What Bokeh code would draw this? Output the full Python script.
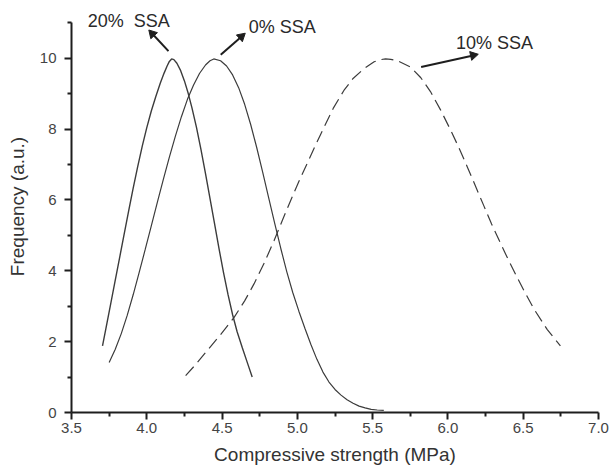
import math

from bokeh.plotting import figure
from bokeh.models import Range1d, FixedTicker, PrintfTickFormatter
from bokeh.core.properties import value
from bokeh.embed import file_html
from bokeh.resources import INLINE

# Compressive strength (MPa) and frequency (a.u.) for each SSA content
x_0 = [3.75, 3.79, 3.83, 3.87, 3.91, 3.95, 3.99, 4.03, 4.07, 4.11, 4.15,
       4.19, 4.23, 4.27, 4.31, 4.35, 4.39, 4.42, 4.445, 4.49, 4.53, 4.57,
       4.61, 4.65, 4.69, 4.73, 4.77, 4.81, 4.85, 4.89, 4.93, 4.97, 5.01,
       5.05, 5.09, 5.13, 5.17, 5.21, 5.25, 5.29, 5.33, 5.37, 5.41, 5.45,
       5.49, 5.53, 5.574]
y_0 = [1.41, 1.78, 2.22, 2.74, 3.33, 3.96, 4.61, 5.27, 5.93, 6.58, 7.21,
       7.80, 8.35, 8.84, 9.24, 9.57, 9.81, 9.93, 9.98, 9.93, 9.78, 9.53,
       9.17, 8.70, 8.13, 7.48, 6.78, 6.05, 5.33, 4.63, 3.97, 3.38, 2.86,
       2.38, 1.92, 1.50, 1.14, 0.86, 0.65, 0.49, 0.36, 0.26, 0.18, 0.13,
       0.09, 0.07, 0.06]

x_10 = [4.258, 4.33, 4.40, 4.49, 4.579, 4.65, 4.712, 4.78, 4.845, 4.90,
        4.955, 5.01, 5.066, 5.12, 5.176, 5.24, 5.309, 5.37, 5.441, 5.51,
        5.55, 5.586, 5.62, 5.67, 5.752, 5.82, 5.884, 5.95, 6.017, 6.07,
        6.128, 6.18, 6.238, 6.29, 6.349, 6.40, 6.46, 6.51, 6.57, 6.66,
        6.747]
y_10 = [1.04, 1.38, 1.74, 2.20, 2.68, 3.15, 3.63, 4.22, 4.85, 5.42,
        5.98, 6.52, 7.04, 7.54, 8.04, 8.60, 9.09, 9.43, 9.70, 9.90,
        9.96, 9.98, 9.97, 9.92, 9.75, 9.45, 9.06, 8.55, 7.98, 7.50,
        6.94, 6.42, 5.84, 5.32, 4.78, 4.32, 3.81, 3.40, 2.93, 2.34,
        1.88]

x_20 = [3.706, 3.73, 3.76, 3.79, 3.82, 3.85, 3.88, 3.91, 3.94, 3.97, 4.00,
        4.03, 4.06, 4.09, 4.115, 4.135, 4.15, 4.165, 4.18, 4.20, 4.225,
        4.25, 4.275, 4.30, 4.33, 4.36, 4.39, 4.42, 4.45, 4.48, 4.51, 4.54,
        4.57, 4.60, 4.635, 4.67, 4.70]
y_20 = [1.88, 2.40, 3.06, 3.72, 4.38, 5.04, 5.70, 6.34, 6.95, 7.52, 8.04,
        8.51, 8.92, 9.30, 9.58, 9.78, 9.91, 9.98, 9.96, 9.86, 9.65,
        9.36, 9.01, 8.60, 8.05, 7.42, 6.74, 6.04, 5.33, 4.62, 3.94, 3.32,
        2.76, 2.28, 1.82, 1.38, 1.00]

series_names = ["20%\u00a0\u00a0SSA", "0% SSA", "10% SSA"]

x_ticks = [3.5, 4.0, 4.5, 5.0, 5.5, 6.0, 6.5, 7.0]
x_minor = [3.75, 4.25, 4.75, 5.25, 5.75, 6.25, 6.75]
y_ticks = [0, 2, 4, 6, 8, 10]
y_minor = [1, 3, 5, 7, 9, 11]

FONT = "Liberation Sans"
INK = "#1e1e1e"
CURVE = "#3c3c3c"

W, H = 611, 474
LEFT, RIGHT, TOP, BOTTOM = 71, 13, 0, 62
X0, X1, Y0, Y1 = 3.5, 7.0, 0.0, 11.63

p = figure(width=W, height=H, output_backend="svg", toolbar_location=None,
           x_range=Range1d(X0, X1), y_range=Range1d(Y0, Y1),
           min_border_left=LEFT, min_border_right=RIGHT, min_border_top=TOP,
           min_border_bottom=BOTTOM)
p.outline_line_color = None
p.grid.visible = False

# curves
p.line(x_20, y_20, line_color=CURVE, line_width=1.4)
p.line(x_0, y_0, line_color=CURVE, line_width=1.2)
p.line(x_10, y_10, line_color=CURVE, line_width=1.2, line_dash="12 6")

# axes
p.axis.axis_line_color = INK
p.axis.axis_line_width = 2
p.axis.major_tick_line_color = INK
p.axis.major_tick_line_width = 2
p.axis.minor_tick_line_color = INK
p.axis.minor_tick_line_width = 2
p.axis.major_tick_in = 0
p.axis.major_tick_out = 7
p.axis.minor_tick_in = 0
p.axis.minor_tick_out = 4
p.axis.major_label_text_font = FONT
p.axis.major_label_text_font_size = "15px"
p.axis.major_label_text_color = "#444444"
p.axis.axis_label_text_font = FONT
p.axis.axis_label_text_font_size = "19px"
p.axis.axis_label_text_font_style = "normal"
p.axis.axis_label_text_color = "#333333"

p.xaxis.ticker = FixedTicker(ticks=x_ticks, minor_ticks=x_minor)
p.xaxis.formatter = PrintfTickFormatter(format="%.1f")
p.xaxis.bounds = (3.5, 7.0)
p.xaxis.major_label_standoff = 3
p.xaxis.axis_label = "Compressive strength (MPa)"
p.xaxis.axis_label_standoff = 8

p.yaxis.ticker = FixedTicker(ticks=y_ticks, minor_ticks=y_minor)
p.yaxis.bounds = (0, 11)
p.yaxis.major_label_standoff = 8
p.yaxis.axis_label = "Frequency (a.u.)"
p.yaxis.axis_label_standoff = 9

# series names above the peaks
p.text(x=[3.88, 4.90, 6.31], y=[11.04, 10.89, 10.44], text=series_names,
       text_font=value(FONT), text_font_size=value("18px"),
       text_align="center", text_baseline="middle", text_color="#2a2a2a")

# pointers from each peak towards its name: shaft plus a triangular head
xs0 = [4.144, 4.491, 5.822]
ys0 = [10.20, 10.10, 9.75]
xs1 = [4.037, 4.628, 6.168]
ys1 = [10.69, 10.61, 10.08]
px_x = (W - LEFT - RIGHT) / (X1 - X0)
px_y = (H - TOP - BOTTOM) / (Y1 - Y0)
head_angles = [math.atan2((b1 - b0) * px_y, (a1 - a0) * px_x) - math.pi / 2
               for a0, b0, a1, b1 in zip(xs0, ys0, xs1, ys1)]
p.segment(x0=xs0, y0=ys0, x1=xs1, y1=ys1, line_color=INK, line_width=2)
p.scatter(x=xs1, y=ys1, marker="triangle", size=9, angle=head_angles,
          fill_color=INK, line_color=INK)

open("out.html", "w").write(file_html(p, INLINE))
